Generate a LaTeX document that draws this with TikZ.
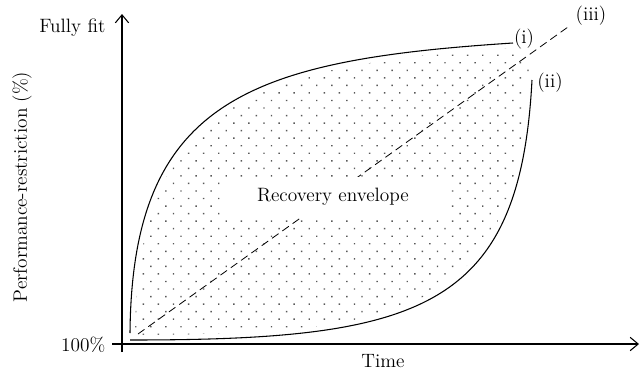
\documentclass[tikz,border=0pt]{standalone}
\usetikzlibrary{patterns.meta,arrows.meta}
\begin{document}
\begin{tikzpicture}[x=0.75pt,y=-0.75pt,
    axis/.style={line width=0.8pt,-{Straight Barb[length=6pt,width=10pt]}},
    curve/.style={line width=0.8pt},
    lbl/.style={font=\fontsize{14.5}{16}\selectfont,inner sep=1pt}]
    \useasboundingbox (0,0) rectangle (640,372);

    % Points of the curves
    \coordinate (i0) at (130,333); \coordinate (i1) at (513,43);
    \coordinate (ii0) at (130,340); \coordinate (ii1) at (532,80);
    \coordinate (iii0) at (138,334); \coordinate (iii1) at (568,27);

    % Recovery envelope (dotted)
    \fill[pattern={Dots[angle=45,distance=8pt,radius=0.75pt]},pattern color=black!65]
        (i0) .. controls (132,100) and (250,60) .. (i1) -- (524,50) -- (ii1)
        .. controls (520,310) and (420,340) .. (ii0) -- cycle;
    \draw[white,line width=7.5pt] (i0) .. controls (132,100) and (250,60) .. (i1);
    \draw[white,line width=7.5pt] (ii0) .. controls (420,340) and (520,310) .. (ii1);

    % Linear recovery (iii)
    \draw[curve,line width=0.6pt,dash pattern=on 6pt off 3.5pt] (iii0) -- (iii1);

    % Label box
    \node[lbl,fill=white,minimum width=169pt,minimum height=30pt] (env) at (333,197) {Recovery envelope};

    % Curves (i) and (ii)
    \draw[curve] (i0) .. controls (132,100) and (250,60) .. (i1);
    \draw[curve] (ii0) .. controls (420,340) and (520,310) .. (ii1);

    % Axes
    \coordinate (ybot) at (122,352); \coordinate (ytop) at (122,14);
    \coordinate (xleft) at (112,344); \coordinate (xend) at (639,344);
    \draw[axis] (ybot) -- (ytop);
    \draw[axis] (xleft) -- (xend);

    % Texts
    \node[lbl,anchor=east] (fit) at (107,28) {Fully fit};
    \node[lbl,anchor=east] (full) at (107,345) {100\%};
    \node[lbl] (time) at (383,361) {Time};
    \node[lbl,rotate=90] (perf) at (22,187) {Performance-restriction (\%)};
    \node[lbl] (li) at (524,39) {(i)};
    \node[lbl] (lii) at (550,83) {(ii)};
    \node[lbl] (liii) at (591,16) {(iii)};
\end{tikzpicture}
\end{document}
